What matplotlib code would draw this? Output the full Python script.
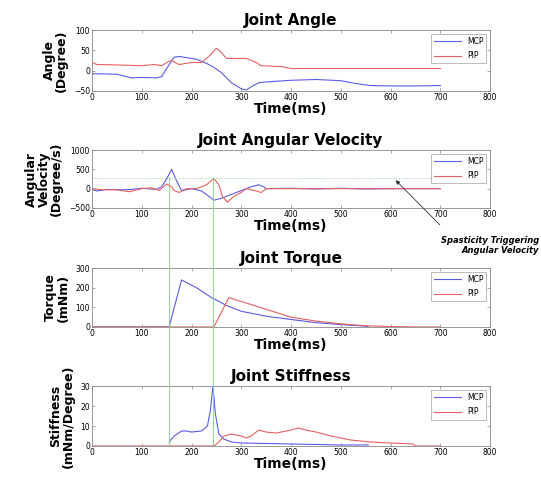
import matplotlib
matplotlib.use("Agg")
import matplotlib.pyplot as plt
from matplotlib.patches import ConnectionPatch

# ---------------- data ----------------
angle_t_mcp = [0, 20, 50, 80, 100, 130, 140, 150, 165, 175, 190, 210, 230, 245, 260, 280, 300, 310, 320, 335, 350, 400, 450, 500, 530, 560, 600, 650, 700]
angle_mcp   = [-8, -8, -9, -18, -17, -18, -15, 5, 33, 35, 32, 28, 18, 8, -5, -30, -45, -48, -40, -30, -28, -24, -22, -25, -32, -37, -38, -38, -37]
angle_t_pip = [0, 10, 50, 100, 125, 140, 150, 160, 175, 200, 220, 235, 250, 260, 270, 300, 310, 330, 340, 380, 400, 700]
angle_pip   = [20, 15, 14, 12, 15, 12, 20, 25, 15, 20, 20, 35, 55, 45, 30, 30, 30, 20, 12, 10, 5, 5]

vel_t_mcp = [0, 10, 30, 60, 80, 100, 120, 130, 140, 150, 160, 170, 180, 200, 220, 235, 245, 260, 280, 300, 320, 335, 345, 350, 400, 450, 500, 550, 600, 650, 700]
vel_mcp   = [-20, -60, -20, -30, -20, 10, -10, -20, 50, 250, 500, 200, -50, 0, -60, -200, -300, -250, -150, -50, 50, 100, 50, 0, 10, -10, 10, -10, 0, 0, 0]
vel_t_pip = [0, 20, 50, 75, 100, 120, 135, 150, 160, 165, 175, 190, 210, 230, 245, 255, 262, 272, 285, 300, 310, 330, 340, 350, 700]
vel_pip   = [0, -30, -30, -80, 0, 20, -50, 120, 50, -50, -100, 0, 0, 100, 260, 100, -200, -350, -200, -100, 0, -60, -100, 0, 0]
vel_threshold = 280
vel_thresh_t = [0, 700]

torque_t_mcp = [0, 155, 180, 210, 240, 270, 300, 350, 400, 450, 500, 550, 555]
torque_mcp   = [0, 0, 240, 200, 150, 110, 80, 55, 38, 22, 12, 4, 0]
torque_t_pip = [0, 245, 275, 300, 350, 400, 450, 500, 550, 600, 650, 700]
torque_pip   = [0, 0, 150, 130, 90, 50, 30, 16, 6, 2, 0, 0]

stiff_t_mcp = [155, 165, 180, 190, 200, 220, 232, 238, 243, 248, 255, 265, 280, 300, 400, 500, 555]
stiff_mcp   = [2, 5, 7.5, 7.5, 7, 7.5, 10, 18, 30, 16, 6, 3.5, 2, 1.5, 1, 0.5, 0.5]
stiff_t_pip = [0, 245, 255, 265, 280, 300, 310, 320, 335, 350, 370, 400, 415, 430, 450, 480, 520, 560, 600, 645, 650, 700]
stiff_pip   = [0, 0, 2, 5, 6, 5, 4, 5, 8, 7, 6.5, 8, 9, 8, 7, 5, 3, 2, 1.5, 1, 0, 0]

trigger_times = [156, 244]

titles = ["Joint Angle", "Joint Angular Velocity", "Joint Torque", "Joint Stiffness"]
ylabels = ["Angle\n(Degree)", "Angular\nVelocity\n(Degree/s)", "Torque\n(mNm)", "Stiffness\n(mNm/Degree)"]
ylims = [(-50, 100), (-500, 1000), (0, 300), (0, 30)]
yticks = [[-50, 0, 50, 100], [-500, 0, 500, 1000], [0, 100, 200, 300], [0, 10, 20, 30]]
xticks = [0, 100, 200, 300, 400, 500, 600, 700, 800]
series_names = ["MCP", "PIP"]

MCP_C = "#5b5be8"
PIP_C = "#e86060"
GRID_C = "#8fd08f"

fig = plt.figure(figsize=(5.41, 4.78), dpi=100)
left, width = 0.170, 0.736
boxes = [(0.810, 0.127), (0.565, 0.121), (0.316, 0.123), (0.067, 0.125)]
axes = [fig.add_axes([left, b, width, h]) for b, h in boxes]

data = [
    (angle_t_mcp, angle_mcp, angle_t_pip, angle_pip),
    (vel_t_mcp, vel_mcp, vel_t_pip, vel_pip),
    (torque_t_mcp, torque_mcp, torque_t_pip, torque_pip),
    (stiff_t_mcp, stiff_mcp, stiff_t_pip, stiff_pip),
]

for i, ax in enumerate(axes):
    tm, ym, tp, yp = data[i]
    ax.plot(tm, ym, color=MCP_C, lw=0.8, label=series_names[0])
    ax.plot(tp, yp, color=PIP_C, lw=0.8, label=series_names[1])
    ax.set_xlim(0, 800)
    ax.set_ylim(*ylims[i])
    ax.set_xticks(xticks)
    ax.set_yticks(yticks[i])
    ax.tick_params(direction="in", top=True, right=True, labelsize=5.5, length=2,
                   width=0.5, color="#888888", pad=1.5)
    for s in ax.spines.values():
        s.set_color("#888888")
        s.set_linewidth(0.6)
    ax.set_title(titles[i], fontsize=11, fontweight="bold", pad=4)
    ax.set_xlabel("Time(ms)", fontsize=10, fontweight="bold", labelpad=0)
    ax.set_ylabel(ylabels[i], fontsize=9, fontweight="bold", labelpad=4, linespacing=0.95)
    leg = ax.legend(loc="upper right", fontsize=5.5, handlelength=3.5, frameon=True,
                    fancybox=False, borderaxespad=0.5, labelspacing=0.7)
    leg.get_frame().set_edgecolor("#888888")
    leg.get_frame().set_linewidth(0.5)

# threshold line in velocity panel
axes[1].plot(vel_thresh_t, [vel_threshold, vel_threshold], color=GRID_C, lw=0.7, ls=":")

# vertical trigger lines from velocity panel down to stiffness panel
for t in trigger_times:
    con = ConnectionPatch(xyA=(t, vel_threshold), coordsA=axes[1].transData,
                          xyB=(t, 0), coordsB=axes[3].transData,
                          edgecolor=GRID_C, facecolor=GRID_C, lw=0.7)
    fig.add_artist(con)

axes[1].annotate("Spasticity Triggering\nAngular Velocity",
                 xy=(610, 220), xycoords="data",
                 xytext=(0.996, 0.487), textcoords="figure fraction",
                 ha="right", va="center", fontsize=6, fontweight="bold", style="italic",
                 arrowprops=dict(arrowstyle="-|>", color="#333333", lw=0.6,
                                 mutation_scale=6, shrinkA=8, shrinkB=0,
                                 relpos=(0.1, 1.0)),
                 annotation_clip=False)

fig.savefig("out.png", dpi=100)
